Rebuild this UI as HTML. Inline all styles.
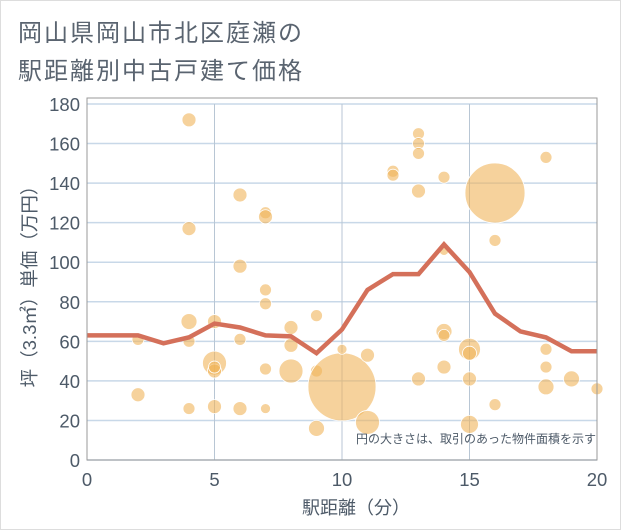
<!DOCTYPE html>
<html><head><meta charset="utf-8"><style>
body{margin:0;background:#fff;font-family:"Liberation Sans","Noto Sans CJK JP",sans-serif}
</style></head><body>
<svg width="621" height="530" style="display:block">
<rect x="0.5" y="0.5" width="620" height="529" fill="#fff" stroke="#ddd"/>
<text x="18" y="41" font-size="24" letter-spacing="2" fill="#5a6470" font-family="Liberation Sans, Noto Sans CJK JP, sans-serif">岡山県岡山市北区庭瀬の</text>
<text x="18" y="79" font-size="24" letter-spacing="2" fill="#5a6470" font-family="Liberation Sans, Noto Sans CJK JP, sans-serif">駅距離別中古戸建て価格</text>
<g id="grid"></g>
<g id="bubbles"></g>
<g id="line"></g>
<g id="axes"></g>
<text x="596" y="443" font-size="12" fill="#4d5a68" text-anchor="end" font-family="Liberation Sans, Noto Sans CJK JP, sans-serif">円の大きさは、取引のあった物件面積を示す</text>
<text x="356" y="514" font-size="18" fill="#4d5a68" text-anchor="middle" font-family="Liberation Sans, Noto Sans CJK JP, sans-serif">駅距離（分）</text>
<text transform="translate(36,282) rotate(-90)" font-size="18.5" fill="#4d5a68" text-anchor="middle" font-family="Liberation Sans, Noto Sans CJK JP, sans-serif">坪（3.3㎡）単価（万円）</text>
</svg>
<script>
const xTicks=[0,5,10,15,20];
const yTicks=[0,20,40,60,80,100,120,140,160,180];
const bubbleX=[2,2,4,4,4,4,4,5,5,5,5,5,6,6,6,6,7,7,7,7,7,7,8,8,8,9,9,9,10,10,11,11,12,12,13,13,13,13,13,14,14,14,14,14,15,15,15,15,16,16,16,18,18,18,18,19,20];
const bubbleY=[61,33,172,117,70,60,26,70,49,45,47,27,134,98,61,26,125,123,86,79,46,26,67,58,45,73,45,16,37,56,53,19,146,144,165,160,155,136,41,143,106,65,63,47,56,54,41,18,135,111,28,153,56,47,37,41,36];
const bubbleSize=[6,7,7,7,8,6,6,7,12,7,6,7,7,7,6,7,6,7,6,6,6,5,7,7,12,6,6,8,34,5,7,12,6,6,6,6,6,7,7,6,5,8,6,7,11,7,7,9,30,6,6,6,6,6,8,8,6];
const lineX=[0,1,2,3,4,5,6,7,8,9,10,11,12,13,14,15,16,17,18,19,20];
const lineY=[63,63,63,59,62,69,67,63,62.5,54,66,86,94,94,109,95,74,65,62,55,55];
const NS="http://www.w3.org/2000/svg";
const X0=87,X1=597,Y0=460,Y1=104;
const sx=v=>X0+(v-0)/20*(X1-X0);
const sy=v=>Y0-(v/180)*(Y0-Y1);
function mk(t,a,p){const e=document.createElementNS(NS,t);for(const k in a)e.setAttribute(k,a[k]);p.appendChild(e);return e;}
const grid=document.getElementById('grid');
yTicks.forEach(v=>{const l=mk('line',{x1:X0,x2:X1,y1:sy(v),y2:sy(v),stroke:'#c8d8e8','stroke-width':1.5},grid);

});
xTicks.forEach(v=>{const l=mk('line',{x1:sx(v),x2:sx(v),y1:Y1,y2:Y0,stroke:'#b8c6d4','stroke-width':1},grid);

});
const bg=document.getElementById('bubbles');
bubbleX.forEach((x,i)=>{const c=mk('circle',{cx:sx(x),cy:sy(bubbleY[i]),r:bubbleSize[i],fill:'rgba(240,180,90,0.6)',stroke:'#fff','stroke-width':0.8},bg);

});
const lg=document.getElementById('line');
const p=mk('polyline',{points:lineX.map((x,i)=>sx(x)+','+sy(lineY[i])).join(' '),fill:'none',stroke:'#d4705a','stroke-width':4.5,'stroke-linejoin':'miter'},lg);


const ax=document.getElementById('axes');
const fr=mk('rect',{x:X0,y:Y1-6,width:X1-X0,height:Y0-Y1+6,fill:'none',stroke:'#999','stroke-width':1},ax);


yTicks.forEach(v=>{const t=mk('text',{x:80,y:sy(v)+7,'font-size':18.5,fill:'#4d5a68','text-anchor':'end'},ax);t.textContent=v;

});
xTicks.forEach(v=>{const t=mk('text',{x:sx(v),y:486,'font-size':18.5,fill:'#4d5a68','text-anchor':'middle'},ax);t.textContent=v;

});
</script>
</body></html>
